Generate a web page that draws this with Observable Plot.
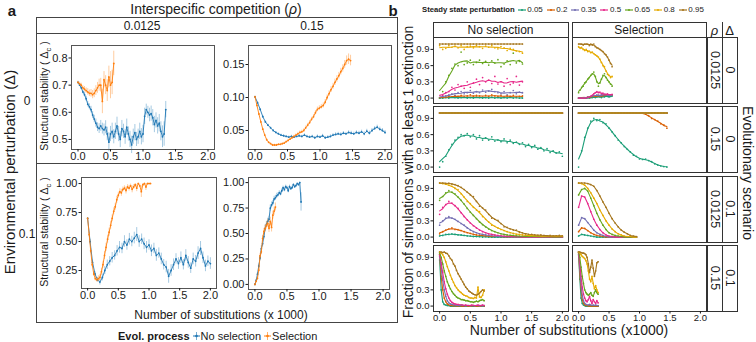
<!DOCTYPE html>
<html>
<head>
<meta charset="utf-8">
<script src="https://cdn.jsdelivr.net/npm/d3@7"></script>
<script src="https://cdn.jsdelivr.net/npm/@observablehq/plot@0.6"></script>
<style>
  html, body { margin: 0; padding: 0; background: #fff; }
  #fig { position: relative; width: 756px; height: 342px; overflow: hidden; background: #fff;
         font-family: "Liberation Sans", Arial, Helvetica, sans-serif; color: #1a1a1a; }
  .t { position: absolute; white-space: nowrap; line-height: 1; }
</style>
</head>
<body>
<div id="fig"></div>
<script>
// ---------------------------------------------------------------------------
// Panel a: structural stability (mean and error) along the substitution path.
// Values are sampled every `step` thousand substitutions, starting at 0.
// ---------------------------------------------------------------------------
const evolProcesses = ["No selection", "Selection"];

// rho = 0.0125, Delta = 0
const stepA1None = 0.025;
const a1None = [
  0.71, 0.70, 0.69, 0.675, 0.665, 0.65, 0.63, 0.62, 0.61, 0.59,
  0.575, 0.56, 0.545, 0.54, 0.55, 0.54, 0.535, 0.545, 0.52, 0.49,
  0.52, 0.53, 0.51, 0.53, 0.55, 0.52, 0.50, 0.54, 0.53, 0.51,
  0.545, 0.52, 0.50, 0.48, 0.51, 0.525, 0.50, 0.51, 0.53, 0.51,
  0.52, 0.585, 0.61, 0.60, 0.59, 0.595, 0.58, 0.555, 0.57, 0.55,
  0.56, 0.53, 0.51, 0.52, 0.61];
const a1NoneErr = [
  0.004, 0.005, 0.006, 0.007, 0.008, 0.009, 0.010, 0.011, 0.012, 0.013,
  0.014, 0.015, 0.016, 0.018, 0.020, 0.020, 0.022, 0.024, 0.025, 0.035,
  0.028, 0.030, 0.026, 0.030, 0.032, 0.028, 0.030, 0.030, 0.026, 0.028,
  0.030, 0.026, 0.030, 0.032, 0.028, 0.030, 0.026, 0.028, 0.030, 0.030,
  0.032, 0.030, 0.020, 0.022, 0.025, 0.028, 0.030, 0.030, 0.028, 0.030,
  0.032, 0.035, 0.040, 0.045, 0.030];
const stepA1Sel = 0.025;
const a1Sel = [
  0.71, 0.705, 0.70, 0.69, 0.685, 0.68, 0.675, 0.67, 0.67, 0.665,
  0.67, 0.68, 0.69, 0.70, 0.70, 0.64, 0.72, 0.70, 0.68, 0.73,
  0.70, 0.71, 0.78];
const a1SelErr = [
  0.004, 0.006, 0.007, 0.008, 0.010, 0.010, 0.012, 0.012, 0.014, 0.015,
  0.016, 0.018, 0.020, 0.022, 0.025, 0.045, 0.030, 0.035, 0.040, 0.040,
  0.050, 0.045, 0.045];

// rho = 0.15, Delta = 0
const stepA2None = 0.04;
const a2None = [
  0.101, 0.092, 0.082, 0.071, 0.063, 0.058, 0.054, 0.050, 0.047, 0.045,
  0.043, 0.042, 0.041, 0.040, 0.041, 0.040, 0.041, 0.042, 0.041, 0.043,
  0.041, 0.040, 0.041, 0.039, 0.041, 0.040, 0.042, 0.039, 0.040, 0.041,
  0.043, 0.044, 0.045, 0.044, 0.046, 0.045, 0.047, 0.046, 0.045, 0.047,
  0.046, 0.048, 0.045, 0.049, 0.046, 0.050, 0.053, 0.055, 0.052, 0.050,
  0.047];
const a2NoneErr = [
  0.001, 0.0015, 0.0015, 0.0015, 0.0015, 0.0015, 0.0015, 0.0015, 0.0015, 0.0015,
  0.0015, 0.0015, 0.0015, 0.0015, 0.0018, 0.0015, 0.0018, 0.002, 0.0018, 0.002,
  0.0018, 0.002, 0.0018, 0.002, 0.0022, 0.002, 0.0022, 0.002, 0.0022, 0.0025,
  0.0022, 0.0025, 0.0022, 0.0025, 0.0025, 0.0022, 0.0025, 0.0028, 0.0025, 0.0025,
  0.0028, 0.0025, 0.003, 0.0028, 0.003, 0.003, 0.0028, 0.003, 0.0032, 0.003,
  0.003];
const stepA2Sel = 0.03;
const a2Sel = [
  0.101, 0.088, 0.075, 0.063, 0.052, 0.043, 0.036, 0.032, 0.030, 0.028,
  0.028, 0.028, 0.029, 0.029, 0.030, 0.031, 0.033, 0.035, 0.037, 0.039,
  0.041, 0.043, 0.045, 0.047, 0.048, 0.050, 0.054, 0.058, 0.062, 0.067,
  0.071, 0.077, 0.082, 0.084, 0.086, 0.088, 0.093, 0.100, 0.106, 0.112,
  0.117, 0.123, 0.128, 0.133, 0.139, 0.144, 0.150, 0.156, 0.158, 0.156];
const a2SelErr = [
  0.001, 0.0012, 0.0012, 0.0012, 0.0012, 0.0012, 0.0012, 0.0012, 0.0012, 0.0012,
  0.0012, 0.0012, 0.0012, 0.0015, 0.0015, 0.0015, 0.0015, 0.0018, 0.0018, 0.002,
  0.002, 0.002, 0.0022, 0.0022, 0.0025, 0.0025, 0.0028, 0.0028, 0.003, 0.003,
  0.0032, 0.0032, 0.0035, 0.0035, 0.0035, 0.0038, 0.004, 0.004, 0.0042, 0.0045,
  0.0045, 0.0048, 0.005, 0.005, 0.0052, 0.0055, 0.006, 0.007, 0.008, 0.008];

// rho = 0.0125, Delta = 0.1
const stepA3None = 0.04;
const a3None = [
  0.70, 0.50, 0.32, 0.22, 0.17, 0.15, 0.19, 0.25, 0.30, 0.33,
  0.36, 0.38, 0.42, 0.45, 0.44, 0.50, 0.47, 0.52, 0.50, 0.53,
  0.56, 0.50, 0.52, 0.48, 0.45, 0.47, 0.42, 0.44, 0.38, 0.40,
  0.35, 0.30, 0.28, 0.20, 0.25, 0.30, 0.35, 0.31, 0.36, 0.30,
  0.38, 0.32, 0.27, 0.35, 0.33, 0.40, 0.44, 0.36, 0.29, 0.33,
  0.31];
const a3NoneErr = [
  0.005, 0.02, 0.02, 0.02, 0.02, 0.025, 0.03, 0.035, 0.04, 0.04,
  0.045, 0.04, 0.045, 0.05, 0.045, 0.05, 0.045, 0.05, 0.045, 0.05,
  0.06, 0.05, 0.045, 0.05, 0.05, 0.045, 0.05, 0.045, 0.05, 0.045,
  0.05, 0.045, 0.05, 0.06, 0.05, 0.05, 0.045, 0.05, 0.05, 0.045,
  0.05, 0.05, 0.045, 0.05, 0.05, 0.055, 0.06, 0.05, 0.05, 0.045,
  0.05];
const stepA3Sel = 0.025;
const a3Sel = [
  0.70, 0.56, 0.42, 0.30, 0.22, 0.18, 0.17, 0.18, 0.19, 0.24,
  0.30, 0.38, 0.45, 0.52, 0.58, 0.64, 0.70, 0.76, 0.80, 0.86,
  0.90, 0.93, 0.92, 0.95, 0.96, 0.94, 0.97, 0.96, 0.98, 0.95,
  0.97, 0.99, 0.96, 1.00, 0.98, 0.93, 0.99, 1.00, 0.97, 1.00,
  1.00, 1.00];
const a3SelErr = [
  0.005, 0.02, 0.02, 0.02, 0.02, 0.02, 0.02, 0.025, 0.025, 0.03,
  0.03, 0.035, 0.035, 0.035, 0.035, 0.035, 0.03, 0.03, 0.03, 0.03,
  0.025, 0.025, 0.03, 0.02, 0.02, 0.03, 0.02, 0.025, 0.015, 0.03,
  0.02, 0.01, 0.03, 0.005, 0.015, 0.05, 0.01, 0.005, 0.03, 0.005,
  0.005, 0.005];

// rho = 0.15, Delta = 0.1
const stepA4None = 0.02;
const a4None = [
  0.00, 0.04, 0.10, 0.18, 0.26, 0.35, 0.40, 0.47, 0.55, 0.59,
  0.62, 0.64, 0.75, 0.78, 0.80, 0.84, 0.85, 0.87, 0.88, 0.90,
  0.89, 0.92, 0.95, 0.93, 0.96, 0.95, 0.92, 0.96, 0.94, 0.95,
  0.98, 0.96, 0.97, 0.99, 0.98, 1.00, 0.81];
const a4NoneErr = [
  0.005, 0.01, 0.015, 0.02, 0.025, 0.03, 0.03, 0.03, 0.03, 0.03,
  0.03, 0.03, 0.03, 0.03, 0.025, 0.025, 0.025, 0.025, 0.02, 0.02,
  0.02, 0.02, 0.015, 0.02, 0.015, 0.015, 0.02, 0.015, 0.015, 0.015,
  0.01, 0.015, 0.01, 0.01, 0.01, 0.005, 0.09];
const stepA4Sel = 0.02;
const a4Sel = [
  0.00, 0.03, 0.06, 0.14, 0.28, 0.32, 0.45, 0.52, 0.55, 0.58,
  0.60, 0.55, 0.62, 0.56, 0.68, 0.72, 0.76];
const a4SelErr = [
  0.005, 0.01, 0.015, 0.02, 0.025, 0.03, 0.03, 0.03, 0.035, 0.035,
  0.04, 0.04, 0.04, 0.045, 0.04, 0.04, 0.04];

const stabilityTicksX = [0, 0.5, 1, 1.5, 2];
const rhoLevels = ["0.0125", "0.15"];
const deltaLevels = ["0", "0.1"];

// ---------------------------------------------------------------------------
// Panel b: fraction of simulations with at least one extinction, by steady
// state perturbation level. One array per level, sampled every `step`.
// ---------------------------------------------------------------------------
const perturbations = ["0.05", "0.2", "0.35", "0.5", "0.65", "0.8", "0.95"];
const perturbationColors = ["#1b9e77", "#d95f02", "#7570b3", "#e7298a", "#66a61e", "#e6ab02", "#a6761d"];
const fractionTicks = [0, 0.3, 0.6, 0.9];

// rho = 0.0125, Delta = 0, no selection
const stepB1None = 0.05;
const b1None = {
  "0.05": [0, 0, 0.01, 0, 0.02, 0.01, 0, 0.01, 0.02, 0, 0.01, 0, 0.02, 0.01, 0, 0.01, 0, 0.02, 0, 0.01, 0, 0.01, 0, 0.02, 0, 0.01, 0, 0],
  "0.2":  [0, 0.01, 0.02, 0.03, 0.02, 0.04, 0.03, 0.05, 0.02, 0.04, 0.06, 0.03, 0.05, 0.04, 0.02, 0.05, 0.03, 0.06, 0.04, 0.03, 0.05, 0.02, 0.04, 0.03, 0.05, 0.02, 0.03, 0.04],
  "0.35": [0, 0.02, 0.04, 0.06, 0.08, 0.05, 0.10, 0.12, 0.08, 0.10, 0.14, 0.09, 0.12, 0.10, 0.15, 0.11, 0.13, 0.16, 0.12, 0.10, 0.08, 0.12, 0.06, 0.10, 0.14, 0.08, 0.11, 0.10],
  "0.5":  [0, 0.05, 0.10, 0.12, 0.20, 0.15, 0.25, 0.22, 0.18, 0.30, 0.20, 0.28, 0.35, 0.25, 0.38, 0.30, 0.33, 0.27, 0.40, 0.26, 0.30, 0.22, 0.36, 0.25, 0.28, 0.40, 0.24, 0.30],
  "0.65": [0, 0.12, 0.30, 0.42, 0.55, 0.63, 0.60, 0.85, 0.62, 0.65, 0.70, 0.62, 0.66, 0.70, 0.64, 0.68, 0.61, 0.69, 0.65, 0.71, 0.58, 0.63, 0.69, 0.62, 0.83, 0.65, 0.68, 0.63],
  "0.8":  [0.97, 0.90, 0.92, 0.97, 0.94, 0.96, 0.93, 0.97, 0.90, 0.95, 0.96, 0.93, 0.97, 0.95, 0.92, 0.96, 0.94, 0.97, 0.93, 0.91, 0.95, 0.93, 0.88, 0.92, 0.90, 0.87, 0.86, 0.83],
  "0.95": [1, 1, 1, 1, 1, 1, 1, 1, 1, 1, 1, 1, 1, 1, 1, 1, 1, 1, 1, 1, 1, 1, 1, 1, 1, 1, 1, 1]
};
// rho = 0.0125, Delta = 0, selection
const stepB1Sel = 0.025;
const b1Sel = {
  "0.05": [0, 0, 0, 0, 0, 0, 0.01, 0, 0.01, 0.01, 0.02, 0.01, 0.02, 0.03, 0.02, 0.01, 0.03, 0.02, 0.04, 0.03, 0.02, 0.03, 0.04],
  "0.2":  [0, 0, 0, 0.01, 0, 0.01, 0.02, 0.01, 0.02, 0.03, 0.02, 0.04, 0.03, 0.05, 0.04, 0.03, 0.05, 0.04, 0.06, 0.05, 0.04, 0.05, 0.06],
  "0.35": [0, 0, 0, 0, 0.01, 0, 0.02, 0.02, 0.03, 0.04, 0.05, 0.03, 0.06, 0.05, 0.04, 0.06, 0.05, 0.07, 0.05, 0.06, 0.04, 0.05, 0.06],
  "0.5":  [0, 0, 0, 0, 0, 0, 0.01, 0.02, 0.03, 0.05, 0.08, 0.10, 0.12, 0.10, 0.11, 0.08, 0.09, 0.06, 0.07, 0.08, 0.05, 0.06, 0.07],
  "0.65": [0.10, 0.15, 0.20, 0.22, 0.28, 0.30, 0.35, 0.38, 0.42, 0.45, 0.48, 0.40, 0.30, 0.22, 0.28, 0.35, 0.42, 0.45, 0.38, 0.33, 0.30, 0.26, 0.22],
  "0.8":  [0.95, 0.92, 0.94, 0.90, 0.88, 0.90, 0.86, 0.87, 0.84, 0.85, 0.82, 0.80, 0.78, 0.76, 0.72, 0.66, 0.60, 0.58, 0.50, 0.44, 0.42, 0.38, 0.40],
  "0.95": [1, 1, 1, 0.98, 1, 1, 1, 0.97, 1, 0.98, 1, 0.95, 0.93, 0.92, 0.90, 0.88, 0.86, 0.82, 0.80, 0.76, 0.70, 0.64, 0.58]
};
// rho = 0.15, Delta = 0, no selection
const stepB2None = 0.05;
const b2None = {
  "0.05": [0, 0.10, 0.20, 0.32, 0.42, 0.50, 0.55, 0.60, 0.58, 0.62, 0.56, 0.60, 0.52, 0.58, 0.50, 0.54, 0.50, 0.56, 0.48, 0.50, 0.47, 0.52, 0.45, 0.50, 0.44, 0.46, 0.42, 0.45, 0.38, 0.42, 0.36, 0.40, 0.33, 0.36, 0.30, 0.34, 0.27, 0.30, 0.26, 0.28, 0.20],
  "0.2":  [1, 1, 1, 1, 1, 1, 1, 1, 1, 1, 1, 1, 1, 1, 1, 1, 1, 1, 1, 1, 1, 1, 1, 1, 1, 1, 1, 1, 1, 1, 1, 1, 1, 1, 1, 1, 1, 1, 1, 1, 1],
  "0.35": [1, 1, 1, 1, 1, 1, 1, 1, 1, 1, 1, 1, 1, 1, 1, 1, 1, 1, 1, 1, 1, 1, 1, 1, 1, 1, 1, 1, 1, 1, 1, 1, 1, 1, 1, 1, 1, 1, 1, 1, 1],
  "0.5":  [1, 1, 1, 1, 1, 1, 1, 1, 1, 1, 1, 1, 1, 1, 1, 1, 1, 1, 1, 1, 1, 1, 1, 1, 1, 1, 1, 1, 1, 1, 1, 1, 1, 1, 1, 1, 1, 1, 1, 1, 1],
  "0.65": [1, 1, 1, 1, 1, 1, 1, 1, 1, 1, 1, 1, 1, 1, 1, 1, 1, 1, 1, 1, 1, 1, 1, 1, 1, 1, 1, 1, 1, 1, 1, 1, 1, 1, 1, 1, 1, 1, 1, 1, 1],
  "0.8":  [1, 1, 1, 1, 1, 1, 1, 1, 1, 1, 1, 1, 1, 1, 1, 1, 1, 1, 1, 1, 1, 1, 1, 1, 1, 1, 1, 1, 1, 1, 1, 1, 1, 1, 1, 1, 1, 1, 1, 1, 1],
  "0.95": [1, 1, 1, 1, 1, 1, 1, 1, 1, 1, 1, 1, 1, 1, 1, 1, 1, 1, 1, 1, 1, 1, 1, 1, 1, 1, 1, 1, 1, 1, 1, 1, 1, 1, 1, 1, 1, 1, 1, 1, 1]
};
// rho = 0.15, Delta = 0, selection
const stepB2Sel = 0.05;
const b2Sel = {
  "0.05": [0, 0.30, 0.55, 0.72, 0.85, 0.90, 0.86, 0.88, 0.82, 0.80, 0.72, 0.65, 0.58, 0.50, 0.45, 0.38, 0.33, 0.28, 0.22, 0.20, 0.15, 0.14, 0.15, 0.12, 0.10, 0.06, 0.04, 0.02, 0.01, 0],
  "0.2":  [1, 1, 1, 1, 1, 1, 1, 1, 1, 1, 1, 1, 1, 1, 1, 1, 1, 1, 1, 1, 1, 1, 0.98, 0.95, 0.90, 0.88, 0.85, 0.80, 0.78, 0.72],
  "0.35": [1, 1, 1, 1, 1, 1, 1, 1, 1, 1, 1, 1, 1, 1, 1, 1, 1, 1, 1, 1, 1, 1, 1, 1, 1, 1, 1, 1, 1, 1],
  "0.5":  [1, 1, 1, 1, 1, 1, 1, 1, 1, 1, 1, 1, 1, 1, 1, 1, 1, 1, 1, 1, 1, 1, 1, 1, 1, 1, 1, 1, 1, 1],
  "0.65": [1, 1, 1, 1, 1, 1, 1, 1, 1, 1, 1, 1, 1, 1, 1, 1, 1, 1, 1, 1, 1, 1, 1, 1, 1, 1, 1, 1, 1, 1],
  "0.8":  [1, 1, 1, 1, 1, 1, 1, 1, 1, 1, 1, 1, 1, 1, 1, 1, 1, 1, 1, 1, 1, 1, 1, 1, 1, 1, 1, 1, 1, 1],
  "0.95": [1, 1, 1, 1, 1, 1, 1, 1, 1, 1, 1, 1, 1, 1, 1, 1, 1, 1, 1, 1, 1, 1, 1, 1, 1, 1, 1, 1, 1, 1]
};
// rho = 0.0125, Delta = 0.1, no selection
const stepB3None = 0.05;
const b3None = {
  "0.05": [0.02, 0.03, 0.05, 0.05, 0.06, 0.05, 0.04, 0.04, 0.03, 0.02, 0.02, 0.01, 0.01, 0.01, 0, 0.01, 0, 0, 0, 0, 0, 0, 0, 0, 0, 0, 0, 0, 0, 0, 0, 0, 0, 0, 0, 0, 0, 0, 0, 0, 0],
  "0.2":  [0.06, 0.10, 0.13, 0.15, 0.17, 0.14, 0.14, 0.12, 0.10, 0.08, 0.07, 0.05, 0.04, 0.03, 0.03, 0.02, 0.02, 0.01, 0.01, 0.01, 0.01, 0, 0.01, 0, 0, 0.01, 0, 0, 0, 0.01, 0, 0, 0, 0, 0.01, 0, 0, 0, 0, 0, 0],
  "0.35": [0.22, 0.30, 0.35, 0.38, 0.35, 0.33, 0.29, 0.25, 0.22, 0.17, 0.13, 0.10, 0.08, 0.06, 0.05, 0.04, 0.03, 0.02, 0.02, 0.01, 0.01, 0.01, 0, 0.01, 0, 0.01, 0, 0, 0.01, 0, 0, 0, 0, 0.01, 0, 0, 0, 0.01, 0, 0, 0],
  "0.5":  [0.42, 0.55, 0.60, 0.66, 0.63, 0.58, 0.53, 0.45, 0.38, 0.32, 0.26, 0.21, 0.17, 0.13, 0.10, 0.08, 0.06, 0.05, 0.04, 0.03, 0.02, 0.02, 0.01, 0.02, 0.01, 0.01, 0, 0.01, 0, 0.01, 0, 0, 0.01, 0, 0, 0.01, 0, 0, 0.01, 0, 0],
  "0.65": [0.68, 0.75, 0.82, 0.86, 0.83, 0.80, 0.74, 0.68, 0.61, 0.53, 0.46, 0.40, 0.34, 0.28, 0.23, 0.19, 0.15, 0.12, 0.10, 0.08, 0.06, 0.05, 0.04, 0.03, 0.03, 0.02, 0.02, 0.01, 0.02, 0.01, 0.01, 0.02, 0.01, 0, 0.01, 0.01, 0, 0.01, 0, 0.01, 0],
  "0.8":  [1, 0.99, 0.98, 0.96, 0.94, 0.90, 0.88, 0.80, 0.74, 0.66, 0.62, 0.55, 0.50, 0.47, 0.38, 0.33, 0.28, 0.22, 0.20, 0.17, 0.14, 0.12, 0.10, 0.08, 0.07, 0.05, 0.05, 0.04, 0.03, 0.03, 0.02, 0.03, 0.02, 0.02, 0.01, 0.02, 0.02, 0.01, 0.02, 0.01, 0.02],
  "0.95": [1, 1, 0.99, 1, 0.98, 0.97, 0.95, 0.92, 0.88, 0.83, 0.78, 0.75, 0.66, 0.57, 0.54, 0.50, 0.42, 0.35, 0.33, 0.31, 0.25, 0.19, 0.18, 0.15, 0.13, 0.13, 0.09, 0.08, 0.06, 0.05, 0.05, 0.04, 0.03, 0.04, 0.03, 0.02, 0.03, 0.02, 0.02, 0.03, 0.02]
};
// rho = 0.0125, Delta = 0.1, selection
const stepB3Sel = 0.05;
const b3Sel = {
  "0.05": [0.02, 0.05, 0.04, 0.03, 0.02, 0.01, 0, 0, 0, 0, 0, 0, 0, 0, 0, 0, 0, 0, 0, 0],
  "0.2":  [0.10, 0.17, 0.16, 0.12, 0.08, 0.05, 0.03, 0.02, 0.01, 0, 0, 0, 0, 0, 0, 0, 0, 0, 0, 0],
  "0.35": [0.22, 0.36, 0.34, 0.27, 0.20, 0.13, 0.08, 0.05, 0.03, 0.01, 0, 0, 0, 0, 0, 0, 0, 0, 0, 0],
  "0.5":  [0.55, 0.76, 0.74, 0.62, 0.47, 0.33, 0.22, 0.14, 0.08, 0.04, 0.02, 0.01, 0, 0, 0, 0, 0, 0, 0, 0],
  "0.65": [0.78, 0.88, 0.90, 0.85, 0.72, 0.58, 0.44, 0.32, 0.22, 0.14, 0.08, 0.05, 0.03, 0.02, 0.01, 0, 0, 0, 0, 0],
  "0.8":  [1, 0.99, 0.96, 0.90, 0.82, 0.72, 0.62, 0.50, 0.40, 0.30, 0.22, 0.15, 0.10, 0.06, 0.04, 0.02, 0.01, 0.01, 0, 0],
  "0.95": [1, 1, 1, 0.99, 0.97, 0.94, 0.86, 0.76, 0.65, 0.55, 0.44, 0.34, 0.26, 0.19, 0.13, 0.09, 0.06, 0.03, 0.02, 0.01]
};
// rho = 0.15, Delta = 0.1, no selection
const stepB4None = 0.025;
const b4None = {
  "0.05": [0.85, 0.30, 0.08, 0.03, 0.02, 0.01, 0.01, 0, 0, 0, 0, 0, 0, 0, 0, 0, 0, 0, 0, 0, 0, 0, 0, 0, 0, 0, 0, 0, 0, 0],
  "0.2":  [0.95, 0.55, 0.30, 0.15, 0.08, 0.04, 0.02, 0.01, 0.01, 0, 0.01, 0, 0, 0.01, 0, 0, 0, 0.01, 0, 0, 0, 0, 0.01, 0, 0, 0, 0, 0, 0.01, 0],
  "0.35": [0.92, 0.70, 0.48, 0.30, 0.18, 0.10, 0.06, 0.04, 0.03, 0.02, 0.02, 0.01, 0.01, 0.01, 0.02, 0.01, 0.01, 0, 0.01, 0.01, 0, 0.01, 0.01, 0, 0.01, 0.01, 0, 0.01, 0, 0.01],
  "0.5":  [0.95, 0.80, 0.62, 0.45, 0.32, 0.22, 0.15, 0.10, 0.07, 0.05, 0.04, 0.03, 0.03, 0.02, 0.02, 0.02, 0.01, 0.02, 0.01, 0.01, 0.01, 0.02, 0.01, 0.01, 0.01, 0.02, 0.01, 0.01, 0.02, 0.01],
  "0.65": [0.98, 0.90, 0.78, 0.65, 0.55, 0.45, 0.38, 0.32, 0.27, 0.23, 0.20, 0.17, 0.15, 0.14, 0.12, 0.12, 0.11, 0.10, 0.10, 0.09, 0.08, 0.08, 0.07, 0.08, 0.09, 0.08, 0.10, 0.11, 0.12, 0.10],
  "0.8":  [1, 0.98, 0.95, 0.90, 0.82, 0.73, 0.65, 0.57, 0.50, 0.44, 0.38, 0.34, 0.30, 0.27, 0.25, 0.22, 0.20, 0.19, 0.18, 0.16, 0.15, 0.15, 0.14, 0.16, 0.15, 0.35, 0.17, 0.16, 0.20, 0.30],
  "0.95": [1, 1, 0.99, 1, 0.98, 0.97, 0.93, 0.88, 0.85, 0.78, 0.74, 0.66, 0.60, 0.55, 0.50, 0.45, 0.40, 0.35, 0.32, 0.28, 0.26, 0.24, 0.22, 0.21, 0.20, 0.22, 0.24, 0.27, 0.30, 0.28]
};
// rho = 0.15, Delta = 0.1, selection
const stepB4Sel = 0.02;
const b4Sel = {
  "0.05": [0.95, 0.50, 0.15, 0.05, 0.02, 0.01, 0, 0, 0, 0, 0, 0, 0, 0, 0, 0, 0],
  "0.2":  [0.98, 0.60, 0.30, 0.12, 0.05, 0.02, 0.01, 0.01, 0, 0, 0, 0, 0, 0, 0, 0, 0],
  "0.35": [1, 0.70, 0.40, 0.20, 0.10, 0.05, 0.03, 0.02, 0.02, 0.03, 0.02, 0.01, 0.02, 0.01, 0.02, 0.01, 0.01],
  "0.5":  [1, 0.80, 0.55, 0.35, 0.22, 0.15, 0.10, 0.08, 0.12, 0.18, 0.10, 0.05, 0.12, 0.08, 0.05, 0.10, 0.06],
  "0.65": [1, 0.90, 0.72, 0.55, 0.42, 0.30, 0.25, 0.22, 0.20, 0.22, 0.25, 0.20, 0.18, 0.25, 0.30, 0.25, 0.22],
  "0.8":  [1, 0.98, 0.95, 0.92, 0.90, 0.88, 0.84, 0.78, 0.65, 0.50, 0.45, 0.55, 0.42, 0.32, 0.38, 0.30, 0.25],
  "0.95": [1, 1, 0.99, 0.98, 0.98, 0.97, 0.95, 0.90, 0.78, 0.62, 0.72, 0.85, 0.70, 0.55, 0.65, 0.80, 0.82]
};
const scenarioRho = ["0.0125", "0.15", "0.0125", "0.15"];
const scenarioDelta = ["0", "0", "0.1", "0.1"];

// ---------------------------------------------------------------------------
// Drawing helpers
// ---------------------------------------------------------------------------
const FONT = '"Liberation Sans", Arial, Helvetica, sans-serif';
const BLUE = "#1f77b4", ORANGE = "#ff7f0e";
const fig = d3.select("#fig");
const deco = fig.append("svg").attr("width", 756).attr("height", 342)
  .style("position", "absolute").style("left", "0px").style("top", "0px");

function text(html, x, y, o = {}) {
  const ax = o.anchor === "start" ? "0" : o.anchor === "end" ? "-100%" : "-50%";
  return fig.append("div").attr("class", "t").html(html)
    .style("left", x + "px").style("top", y + "px")
    .style("font-size", (o.size || 10) + "px")
    .style("font-weight", o.bold ? "bold" : null)
    .style("transform", `translate(${ax}, -50%)` + (o.rotate ? ` rotate(${o.rotate}deg)` : ""));
}
function rect(x1, y1, x2, y2, stroke = "#333", w = 1) {
  deco.append("rect").attr("x", x1 + 0.5).attr("y", y1 + 0.5)
    .attr("width", x2 - x1).attr("height", y2 - y1)
    .attr("fill", "none").attr("stroke", stroke).attr("stroke-width", w);
}
function hline(x1, x2, y, stroke = "#333", w = 1) {
  deco.append("line").attr("x1", x1).attr("x2", x2 + 1).attr("y1", y + 0.5).attr("y2", y + 0.5)
    .attr("stroke", stroke).attr("stroke-width", w);
}
function vline(x, y1, y2, stroke = "#333", w = 1) {
  deco.append("line").attr("x1", x + 0.5).attr("x2", x + 0.5).attr("y1", y1).attr("y2", y2 + 1)
    .attr("stroke", stroke).attr("stroke-width", w);
}

// One Plot per panel, positioned so that its frame lands on box = [left, top, right, bottom]
function panel({box: [L, T, R, B], xDomain, yDomain, marks, yTicks, yFormat, xTicks, fontSize, frame, color}) {
  const ml = 34, mr = 14, mt = 6, mb = 16;
  const svg = Plot.plot({
    width: R - L + ml + mr, height: B - T + mt + mb,
    marginLeft: ml, marginRight: mr, marginTop: mt, marginBottom: mb,
    x: {domain: xDomain, axis: null},
    y: {domain: yDomain, axis: null},
    color,
    style: {background: "transparent", overflow: "visible", fontFamily: FONT, fontSize: fontSize + "px", color: "#1a1a1a"},
    marks: [
      ...marks,
      Plot.frame({stroke: frame}),
      yTicks ? Plot.axisY({ticks: yTicks, tickFormat: d3.format(yFormat), tickSize: 2.5, tickPadding: 1.5, label: null}) : null,
      xTicks ? Plot.axisX({ticks: xTicks, tickFormat: d3.format(".1f"), tickSize: 2.5, tickPadding: 0.5, label: null}) : null
    ].filter(Boolean)
  });
  svg.style.position = "absolute";
  svg.style.left = (L - ml) + "px";
  svg.style.top = (T - mt) + "px";
  fig.node().appendChild(svg);
}

function stabilityRows(values, errs, step) {
  return values.map((v, i) => ({u: i * step, v, lo: v - errs[i], hi: v + errs[i]}));
}
function stabilityMarks(values, errs, step, c) {
  const rows = stabilityRows(values, errs, step);
  return [
    Plot.ruleX(rows, {x: "u", y1: "lo", y2: "hi", stroke: c, strokeOpacity: 0.4, strokeWidth: 1}),
    Plot.line(rows, {x: "u", y: "v", stroke: c, strokeWidth: 0.9}),
    Plot.dot(rows, {x: "u", y: "v", fill: c, r: 0.9})
  ];
}
function extinctionMarks(table, step, k) {
  const rows = perturbations.flatMap((lv) => table[lv].map((f, i) => ({u: i * step, f, lv})));
  return [
    Plot.dot(rows, {x: "u", y: "f", fill: "lv", r: 0.85}),
    Plot.lineY(rows, Plot.windowY({k, anchor: "middle", reduce: "mean"}, {x: "u", y: "f", stroke: "lv", strokeWidth: 1.1}))
  ];
}

// ---------------------------------------------------------------------------
// Panel a
// ---------------------------------------------------------------------------
text("a", 12, 10, {size: 15, bold: true});
text("Interspecific competition (<i>ρ</i>)", 216, 9, {size: 14});
rect(36, 17, 397, 322, "#444");
hline(36, 397, 33, "#444");
hline(36, 397, 163, "#444");
text(rhoLevels[0], 142, 25.5, {size: 12});
text(rhoLevels[1], 312, 25.5, {size: 12});
text(deltaLevels[0], 27, 101, {size: 12});
text(deltaLevels[1], 27, 234, {size: 12});
text("Environmental perturbation (Δ)", 9, 172, {size: 15, rotate: -90});
text("Structural stability ( Δ<sub style='font-size:70%'>c</sub> )", 46, 96, {size: 10.5, rotate: -90});
text("Structural stability ( Δ<sub style='font-size:70%'>c</sub> )", 46, 232, {size: 10.5, rotate: -90});
text("Number of substitutions (x 1000)", 221, 315, {size: 12});

const xStab = [-0.1, 2.1];
panel({box: [71, 45, 214, 149], xDomain: xStab, yDomain: [0.463, 0.846], yTicks: [0.5, 0.6, 0.7, 0.8], yFormat: ".1f",
  xTicks: stabilityTicksX, fontSize: 11, frame: "#555",
  marks: [...stabilityMarks(a1None, a1NoneErr, stepA1None, BLUE), ...stabilityMarks(a1Sel, a1SelErr, stepA1Sel, ORANGE)]});
panel({box: [248, 45, 391, 149], xDomain: xStab, yDomain: [0.0212, 0.1788], yTicks: [0.05, 0.10, 0.15], yFormat: ".2f",
  xTicks: stabilityTicksX, fontSize: 11, frame: "#555",
  marks: [...stabilityMarks(a2None, a2NoneErr, stepA2None, BLUE), ...stabilityMarks(a2Sel, a2SelErr, stepA2Sel, ORANGE)]});
panel({box: [81, 177, 216, 288], xDomain: xStab, yDomain: [0.095, 1.052], yTicks: [0.25, 0.5, 0.75, 1], yFormat: ".2f",
  xTicks: stabilityTicksX, fontSize: 11, frame: "#555",
  marks: [...stabilityMarks(a3None, a3NoneErr, stepA3None, BLUE), ...stabilityMarks(a3Sel, a3SelErr, stepA3Sel, ORANGE)]});
panel({box: [248, 177, 389, 289], xDomain: xStab, yDomain: [-0.05, 1.05], yTicks: [0, 0.25, 0.5, 0.75, 1], yFormat: ".2f",
  xTicks: stabilityTicksX, fontSize: 11, frame: "#555",
  marks: [...stabilityMarks(a4None, a4NoneErr, stepA4None, BLUE), ...stabilityMarks(a4Sel, a4SelErr, stepA4Sel, ORANGE)]});

// legend for panel a
const legA = fig.append("div").attr("class", "t")
  .style("left", "118px").style("top", "336px").style("transform", "translate(0,-50%)")
  .style("font-size", "11px").style("display", "flex").style("align-items", "center");
legA.append("b").text("Evol. process");
evolProcesses.forEach((name, i) => {
  const c = i === 0 ? BLUE : ORANGE;
  legA.append("span").style("display", "inline-flex").style("margin", "0 1px 0 3px")
    .html(`<svg width="7" height="9"><line x1="0" x2="7" y1="4.5" y2="4.5" stroke="${c}" stroke-width="1"/>` +
          `<line x1="3.5" x2="3.5" y1="0.5" y2="8.5" stroke="${c}" stroke-opacity="0.6"/>` +
          `<circle cx="3.5" cy="4.5" r="1.3" fill="${c}"/></svg>`);
  legA.append("span").text(name);
});

// ---------------------------------------------------------------------------
// Panel b
// ---------------------------------------------------------------------------
text("b", 393, 10, {size: 15, bold: true});
const legB = fig.append("div").attr("class", "t")
  .style("left", "422px").style("top", "10px").style("transform", "translate(0,-50%)")
  .style("font-size", "8px").style("display", "flex").style("align-items", "center");
legB.append("b").text("Steady state perturbation").style("font-size", "7.7px").style("margin-right", "3px");
perturbations.forEach((lv, i) => {
  const c = perturbationColors[i];
  legB.append("span").style("display", "inline-flex")
    .html(`<svg width="8" height="6"><line x1="0" x2="8" y1="3" y2="3" stroke="${c}" stroke-width="1.2"/>` +
          `<circle cx="4" cy="3" r="1" fill="${c}"/></svg>`);
  legB.append("span").text(lv).style("margin", "0 4px 0 1.5px");
});

const colsB = [[433, 568], [572, 706]];
const rowsB = [[37, 103], [106, 172], [176, 242], [245, 311]];
rect(433, 22, 568, 37, "#333");
rect(572, 22, 706, 37, "#333");
text(evolProcesses[0], 500.5, 30, {size: 12});
text(evolProcesses[1], 639, 30, {size: 12});
text("<i>ρ</i>", 714.5, 30, {size: 13});
text("Δ", 729.5, 30, {size: 13});
vline(722, 22, 37, "#333");
rowsB.forEach(([t, b], r) => {
  rect(707, t, 722, b, "#333");
  rect(722, t, 737, b, "#333");
  text(scenarioRho[r], 714.5, (t + b) / 2, {size: 12.5, rotate: 90});
  text(scenarioDelta[r], 729.5, (t + b) / 2, {size: 12.5, rotate: 90});
});
text("Fraction of simulations with at least 1 extinction", 408, 172, {size: 14, rotate: -90});
text("Evolutionary scenario", 747.5, 173, {size: 14, rotate: 90});
text("Number of substitutions (x1000)", 569, 330, {size: 14});

const colorB = {domain: perturbations, range: perturbationColors};
const panelsB = [
  [b1None, stepB1None, 5], [b1Sel, stepB1Sel, 3],
  [b2None, stepB2None, 5], [b2Sel, stepB2Sel, 3],
  [b3None, stepB3None, 3], [b3Sel, stepB3Sel, 1],
  [b4None, stepB4None, 1], [b4Sel, stepB4Sel, 1]
];
panelsB.forEach(([table, step, k], i) => {
  const r = Math.floor(i / 2), c = i % 2;
  panel({
    box: [colsB[c][0], rowsB[r][0], colsB[c][1], rowsB[r][1]],
    xDomain: [-0.1, 2.1], yDomain: [-0.1, 1.12],
    yTicks: c === 0 ? fractionTicks : null, yFormat: ".1f",
    xTicks: r === 3 ? stabilityTicksX : null,
    fontSize: 9.5, frame: "#333", color: colorB,
    marks: extinctionMarks(table, step, k)
  });
});
</script>
</body>
</html>
